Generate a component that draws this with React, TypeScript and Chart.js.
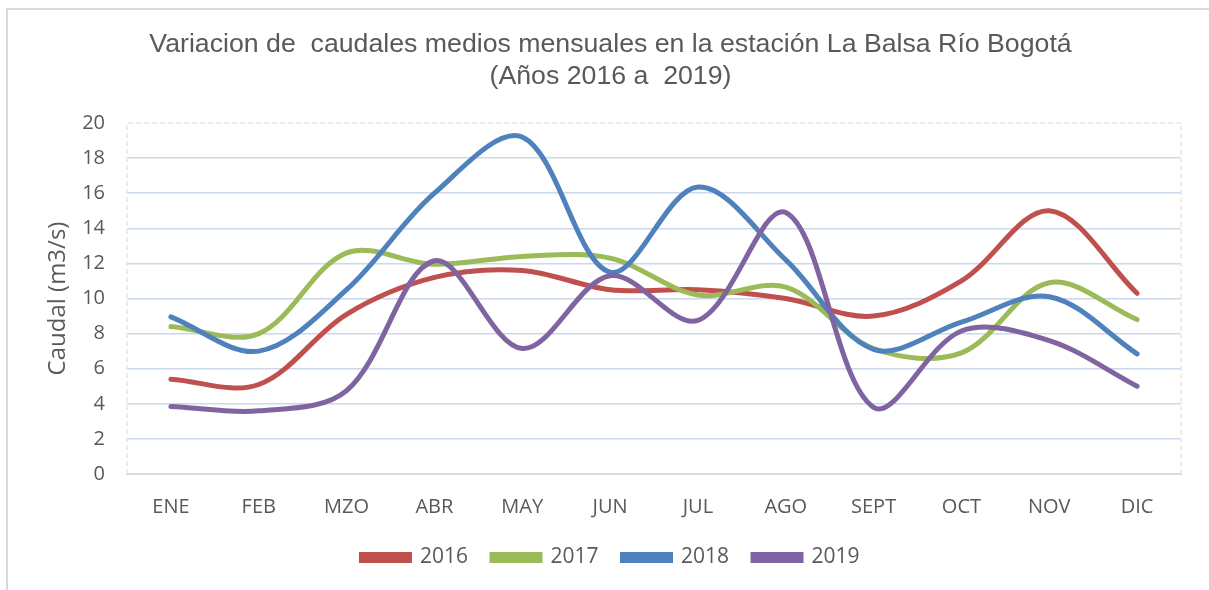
import React, { useEffect, useRef } from "react";
import { Chart, registerables } from "chart.js";

Chart.register(...registerables);

const months = ["ENE", "FEB", "MZO", "ABR", "MAY", "JUN", "JUL", "AGO", "SEPT", "OCT", "NOV", "DIC"];
const v2016 = [5.4, 5.1, 9.1, 11.2, 11.6, 10.5, 10.5, 10.0, 9.0, 11.0, 15.0, 10.3];
const v2017 = [8.4, 8.0, 12.6, 11.95, 12.4, 12.3, 10.2, 10.65, 7.15, 6.9, 10.9, 8.8];
const v2018 = [8.95, 7.0, 10.5, 16.0, 19.2, 11.5, 16.35, 12.2, 7.1, 8.65, 10.1, 6.85];
const v2019 = [3.85, 3.6, 4.75, 12.15, 7.15, 11.3, 8.75, 14.9, 3.8, 8.15, 7.6, 5.0];
const seriesLabels = ["2016", "2017", "2018", "2019"];
const seriesColors = ["#c0504d", "#9bbb59", "#4f81bd", "#8064a2"];
const titleLines = [
  "Variacion de  caudales medios mensuales en la estación La Balsa Río Bogotá",
  "(Años 2016 a  2019)",
];
const yTitle = "Caudal (m3/s)";

const plotBorder = {
  id: "plotBorder",
  beforeDatasetsDraw(chart: any) {
    const { ctx, chartArea } = chart;
    ctx.save();
    ctx.strokeStyle = "#ebe8db";
    ctx.lineWidth = 1.5;
    ctx.setLineDash([5, 3]);
    ctx.beginPath();
    ctx.moveTo(chartArea.left, chartArea.bottom);
    ctx.lineTo(chartArea.left, chartArea.top);
    ctx.lineTo(chartArea.right, chartArea.top);
    ctx.lineTo(chartArea.right, chartArea.bottom);
    ctx.stroke();
    ctx.restore();
  },
};

export default function App() {
  const ref = useRef<HTMLCanvasElement>(null);
  useEffect(() => {
    if (!ref.current) return;
    const all = [v2016, v2017, v2018, v2019];
    const chart = new Chart(ref.current, {
      type: "line",
      data: {
        labels: months,
        datasets: all.map((d, i) => ({
          label: seriesLabels[i],
          data: d,
          borderColor: seriesColors[i],
          backgroundColor: seriesColors[i],
          borderWidth: 5,
          pointRadius: 0,
          tension: 0.34,
          borderCapStyle: "round",
          order: 4 - i,
        })),
      },
      options: {
        responsive: false,
        animation: false,
        devicePixelRatio: 1,
        layout: { padding: { left: 40, right: 28, top: 0, bottom: 12 } },
        plugins: {
          tooltip: { enabled: false },
          title: {
            display: true,
            text: titleLines,
            color: "#595959",
            font: { family: "'Liberation Sans', Arial, sans-serif", size: 26.7, weight: "normal", lineHeight: 1.18 },
            padding: { top: 29, bottom: 31 },
          },
          legend: {
            position: "bottom",
            labels: {
              boxWidth: 48,
              boxHeight: 6,
              padding: 24,
              color: "#595959",
              font: { family: "'Open Sans', sans-serif", size: 21 },
              sort: (a: any, b: any) => a.datasetIndex - b.datasetIndex,
            },
          },
        },
        scales: {
          x: {
            offset: true,
            grid: { display: false, drawTicks: false },
            border: { color: "#d9d9d9", width: 2 },
            ticks: { color: "#595959", padding: 21, font: { family: "'Open Sans', sans-serif", size: 20 } },
            afterFit: (s: any) => { s.height = 49; },
          },
          y: {
            min: 0,
            max: 20,
            ticks: { stepSize: 2, color: "#595959", padding: 22, font: { family: "'Open Sans', sans-serif", size: 20 } },
            grid: {
              drawTicks: false,
              lineWidth: 1.5,
              color: (c: any) => (c.tick && (c.tick.value === 0 || c.tick.value === 20) ? "rgba(0,0,0,0)" : "#cbd8ec"),
            },
            border: { display: false },
            title: {
              display: true,
              text: yTitle,
              color: "#595959",
              font: { family: "'Open Sans', sans-serif", size: 24 },
              padding: { top: 4, bottom: 0 },
            },
            afterFit: (s: any) => { s.width = 87; },
          },
        },
      },
      plugins: [plotBorder],
    } as any);
    return () => chart.destroy();
  }, []);
  return (
    <div style={{ position: "absolute", left: 0, top: 0, width: 1209, height: 590, background: "#fff" }}>
      <div style={{ position: "absolute", left: 6, top: 8, width: 1203, height: 582, borderLeft: "2px solid #d9d9d9", borderTop: "2px solid #d9d9d9", boxSizing: "border-box" }} />
      <canvas ref={ref} width={1209} height={590} style={{ position: "absolute", left: 0, top: 0, width: 1209, height: 590 }} />
    </div>
  );
}
